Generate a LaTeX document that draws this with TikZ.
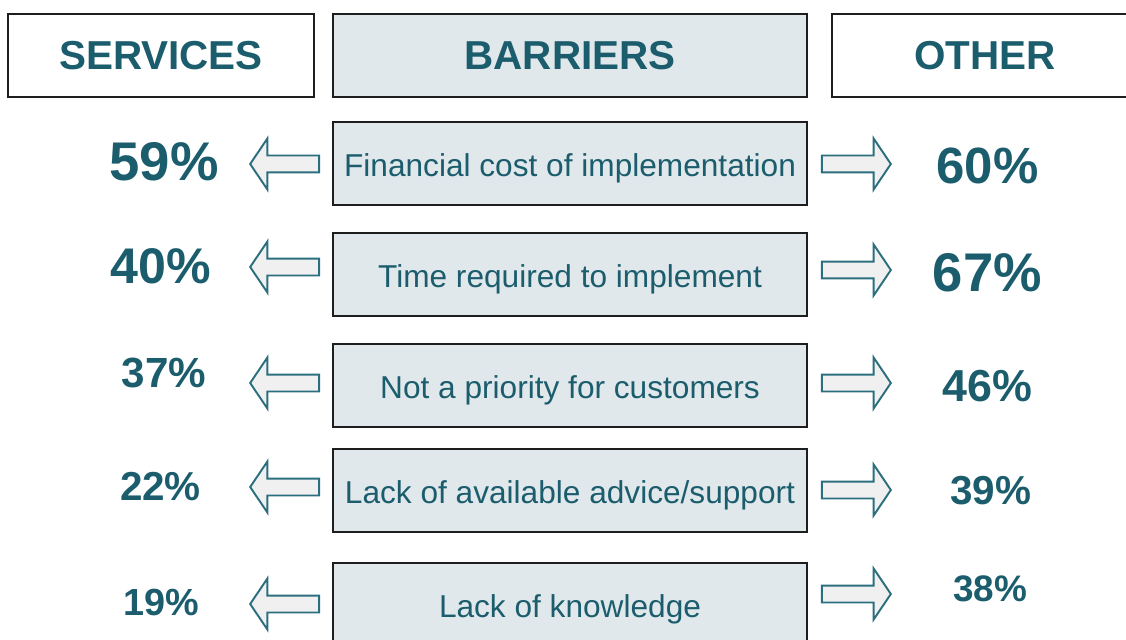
\documentclass[tikz,border=0pt]{standalone}
\usepackage{fontspec}
\setmainfont{Liberation Sans}
\usepackage{xcolor}
\usepackage{tikz}
\usetikzlibrary{shapes.arrows}
\definecolor{tealtext}{HTML}{1B5D6D}
\definecolor{tealline}{HTML}{2B6F7E}
\definecolor{boxfill}{HTML}{E1E8EB}
\definecolor{arrowfill}{HTML}{F0F0F0}
\definecolor{boxline}{HTML}{1E1E1E}

\begin{document}
\begin{tikzpicture}[
	headbox/.style={draw=boxline, line width=1.1pt, minimum width=6.12cm, minimum height=1.66cm, inner sep=0pt, text=tealtext, font=\fontsize{23}{23}\selectfont\bfseries},
	barrierbox/.style={draw=boxline, line width=1.1pt, fill=boxfill, minimum width=9.48cm, minimum height=1.66cm, inner sep=0pt, text height=14.8pt, text depth=0pt, text=tealtext, font=\fontsize{18}{18}\selectfont},
	blockarrow/.style={single arrow, draw=tealline, fill=arrowfill, line width=1.1pt, minimum height=1.38cm, inner xsep=0pt, inner ysep=0.15cm, text height=0pt, text depth=0pt, single arrow head extend=0.34cm, single arrow tip angle=112, anchor=tip},
	percent/.style={text=tealtext, inner sep=0pt, font=\fontsize{#1}{#1}\selectfont\bfseries}
]
	\clip (0,0) rectangle (22.52,12.78);
	\node[headbox] (services) at (3.22,11.67) {SERVICES};
	\node[headbox, fill=boxfill, minimum width=9.48cm] (barriers) at (11.40,11.67) {BARRIERS};
	\node[headbox] (other) at (19.70,11.67) {OTHER};
	\node[barrierbox] (cost) at (11.40,9.51) {Financial cost of implementation};
	\node[barrierbox] (time) at (11.40,7.29) {Time required to implement};
	\node[barrierbox] (priority) at (11.40,5.07) {Not a priority for customers};
	\node[barrierbox] (advice) at (11.40,2.97) {Lack of available advice/support};
	\node[barrierbox] (knowledge) at (11.40,0.69) {Lack of knowledge};
	\node[blockarrow, shape border rotate=180] (costL) at (4.98,9.50) {};
	\node[blockarrow, shape border rotate=180] (timeL) at (4.98,7.44) {};
	\node[blockarrow, shape border rotate=180] (priorityL) at (4.98,5.12) {};
	\node[blockarrow, shape border rotate=180] (adviceL) at (4.98,3.04) {};
	\node[blockarrow, shape border rotate=180] (knowledgeL) at (4.98,0.70) {};
	\node[blockarrow] (costR) at (17.84,9.50) {};
	\node[blockarrow] (timeR) at (17.84,7.38) {};
	\node[blockarrow] (priorityR) at (17.84,5.12) {};
	\node[blockarrow] (adviceR) at (17.84,2.98) {};
	\node[blockarrow] (knowledgeR) at (17.84,0.90) {};
	\node[percent=31] (costS) at (3.28,9.54) {59\%};
	\node[percent=28.5] (timeS) at (3.21,7.45) {40\%};
	\node[percent=24] (priorityS) at (3.28,5.32) {37\%};
	\node[percent=23] (adviceS) at (3.21,3.04) {22\%};
	\node[percent=21.5] (knowledgeS) at (3.23,0.73) {19\%};
	\node[percent=29] (costO) at (19.75,9.46) {60\%};
	\node[percent=31] (timeO) at (19.75,7.33) {67\%};
	\node[percent=25.5] (priorityO) at (19.75,5.05) {46\%};
	\node[percent=23] (adviceO) at (19.81,2.96) {39\%};
	\node[percent=21] (knowledgeO) at (19.80,1.00) {38\%};
\end{tikzpicture}
\end{document}
